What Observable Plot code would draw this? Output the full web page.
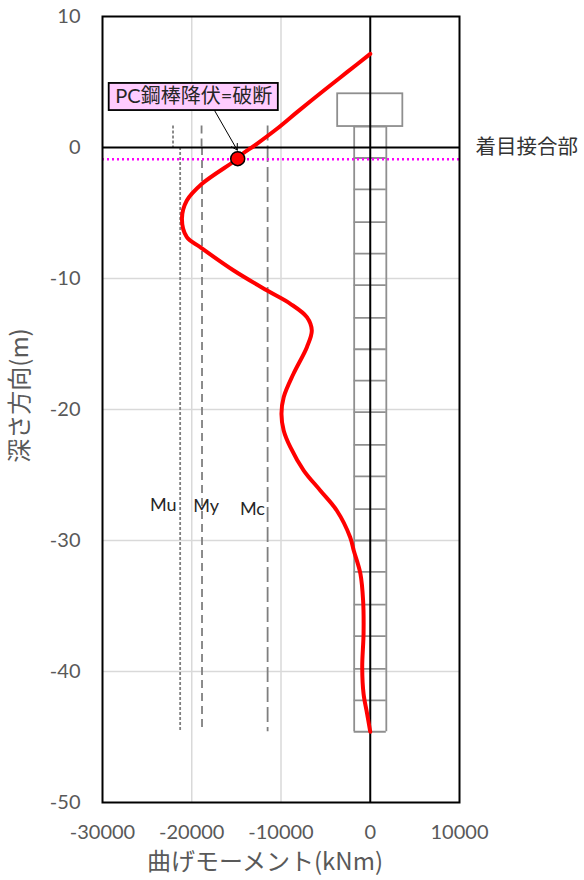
<!DOCTYPE html>
<html>
<head>
<meta charset="utf-8">
<script src="https://cdn.jsdelivr.net/npm/d3@7"></script>
<script src="https://cdn.jsdelivr.net/npm/@observablehq/plot@0.6"></script>
<style>
  html, body { margin: 0; padding: 0; background: #fff; }
  #chart { width: 584px; height: 880px; }
</style>
</head>
<body>
<div id="chart"></div>
<script>
// ---- axes ----
const momentTicks = [-30000, -20000, -10000, 0, 10000];
const depthTicks = [10, 0, -10, -20, -30, -40, -50];
const momentGrid = [-20000, -10000];
const depthGrid = [-10, -20, -30, -40];

// ---- bending moment distribution (depth m, moment kNm) ----
const curveDepth  = [7.15, 5.75, 4.35, 2.7, 1.43, 0.28, -0.61, -0.85, -2.77, -4.05, -5.44, -6.85, -7.61, -9.39, -10.92, -11.93, -12.95, -13.97, -15.24, -17.27, -19.06, -20.33, -21.6, -22.88, -24.66, -26.18, -27.71, -29.75, -30.76, -32.54, -34.58, -37.1, -39.67, -41.7, -43.23, -44.6];
const curveMoment = [0, -2600, -5200, -8200, -10450, -12700, -14550, -14850, -18850, -20550, -21100, -20550, -19050, -15300, -11550, -8950, -7100, -6550, -7100, -8600, -9700, -9950, -9700, -8950, -7450, -5600, -3750, -2250, -1850, -1100, -800, -750, -900, -750, -350, 0];

// ---- limit moments ----
const limitNames = ["Mu", "My", "Mc"];
const limitUpper = [-22100, -18900, -11500];   // pile-head zone (above 0 m)
const limitLower = [-21300, -18850, -11500];   // below 0 m
const limitDash = ["3,2", "8,5", "15,5"];
const limitWidth = [1.8, 1.8, 1.8];
const limitTop = 1.65;
const limitBottom = -44.6;
const limitLabelMoment = [-23200, -18400, -13200];
const limitLabelDepth = [-27.3, -27.4, -27.6];

// ---- pile outline ----
const pileHalfWidth = 1800;
const capHalfWidth = 3650;
const capTop = 4.1;
const pileTop = 1.6;
const pileBottom = -44.6;
const pileDivisions = [1.6, -0.8, -3.2, -5.7, -8.1, -10.5, -13.0, -15.4, -17.8, -20.2, -22.7, -25.1, -27.6, -30.0, -32.4, -34.9, -37.3, -39.8, -42.2, -44.6];

// ---- focus joint & failure point ----
const jointDepth = [-0.9];
const failureMoment = [-14850];
const failureDepth = [-0.85];
const calloutText = ["PC鋼棒降伏=破断"];
const calloutBoxX = [-29250, -10300];
const calloutBoxY = [2.82, 4.89];
const calloutArrowFrom = [-17550, 2.95];
const calloutArrowTo = [-14900, -0.2];

const curve = curveDepth.map((d, i) => ({depth: d, moment: curveMoment[i]}));
const fontStack = "Lato, 'Noto Sans CJK JP', 'Noto Sans', sans-serif";
const gray = "#595959";
const pileGray = "#8f8f8f";

const limitMarks = [];
limitNames.forEach((name, i) => {
  const segs = [
    {x: limitUpper[i], y1: limitTop, y2: 0},
    {x: limitLower[i], y1: 0, y2: limitBottom}
  ];
  limitMarks.push(Plot.ruleX(segs, {x: "x", y1: "y1", y2: "y2", stroke: "#7f7f7f", strokeWidth: limitWidth[i], strokeDasharray: limitDash[i]}));
});

const chart = Plot.plot({
  width: 584,
  height: 880,
  marginLeft: 102,
  marginRight: 125,
  marginTop: 16,
  marginBottom: 78,
  style: {fontFamily: fontStack, background: "#fff", color: gray},
  x: {domain: [-30000, 10000]},
  y: {domain: [-50, 10]},
  marks: [
    Plot.ruleX(momentGrid, {stroke: "#d9d9d9", strokeWidth: 1.5}),
    Plot.ruleY(depthGrid, {stroke: "#d9d9d9", strokeWidth: 1.5}),
    // pile
    Plot.rect([0], {x1: () => -capHalfWidth, x2: () => capHalfWidth, y1: () => pileTop, y2: () => capTop, fill: "none", stroke: pileGray, strokeWidth: 1.8}),
    Plot.ruleX([-pileHalfWidth, pileHalfWidth], {x: d => d, y1: () => pileBottom, y2: () => pileTop, stroke: pileGray, strokeWidth: 1.8}),
    Plot.ruleY(pileDivisions, {y: d => d, x1: () => -pileHalfWidth, x2: () => pileHalfWidth, stroke: pileGray, strokeWidth: 1.8}),
    ...limitMarks,
    Plot.text(limitNames, {x: (d, i) => limitLabelMoment[i], y: (d, i) => limitLabelDepth[i], text: d => d, fontSize: 18, fill: "#262626"}),
    // joint line
    Plot.ruleY(jointDepth, {y: d => d, stroke: "#ff00ff", strokeWidth: 2.5, strokeDasharray: "2,3"}),
    // zero axes
    Plot.ruleX([0], {stroke: "black", strokeWidth: 2}),
    Plot.ruleY([0], {stroke: "black", strokeWidth: 2}),
    Plot.frame({stroke: "black", strokeWidth: 2}),
    // moment curve
    Plot.line(curve, {x: "moment", y: "depth", stroke: "#ff0000", strokeWidth: 4, curve: "catmull-rom"}),
    // callout
    Plot.arrow([0], {x1: () => calloutArrowFrom[0], y1: () => calloutArrowFrom[1], x2: () => calloutArrowTo[0], y2: () => calloutArrowTo[1], stroke: "black", strokeWidth: 1, headLength: 10}),
    Plot.dot(failureMoment, {x: d => d, y: (d, i) => failureDepth[i], r: 7, fill: "#ff0000", stroke: "black", strokeWidth: 1.5}),
    Plot.rect(calloutText, {x1: () => calloutBoxX[0], x2: () => calloutBoxX[1], y1: () => calloutBoxY[0], y2: () => calloutBoxY[1], fill: "#ffccff", stroke: "black", strokeWidth: 1.8}),
    Plot.text(calloutText, {x: () => (calloutBoxX[0] + calloutBoxX[1]) / 2, y: () => (calloutBoxY[0] + calloutBoxY[1]) / 2, text: d => d, fontSize: 20, fill: "#262626", fontFamily: fontStack}),
    // joint label
    Plot.text(["着目接合部"], {x: () => 10000, y: () => 0, text: d => d, dx: 16, textAnchor: "start", fontSize: 20.5, fill: "#333", fontFamily: "'Noto Sans CJK JP', sans-serif"}),
    // axes
    Plot.axisX(momentTicks, {tickSize: 0, tickPadding: 22, fontSize: 20, tickFormat: d => String(d), label: null}),
    Plot.axisY(depthTicks, {tickSize: 0, tickPadding: 22, fontSize: 20, tickFormat: d => String(d), label: null}),
    Plot.text(["曲げモーメント(kNm)"], {frameAnchor: "bottom", dy: 60, dx: -16, lineAnchor: "middle", textAnchor: "middle", text: d => d, fontSize: 24, fill: gray, fontFamily: "'Noto Sans CJK JP', sans-serif"}),
    Plot.text(["深さ方向(m)"], {frameAnchor: "left", dx: -82, dy: -14, rotate: -90, lineAnchor: "middle", textAnchor: "middle", text: d => d, fontSize: 24, fill: gray, fontFamily: "'Noto Sans CJK JP', sans-serif"})
  ]
});
document.getElementById("chart").appendChild(chart);
</script>
</body>
</html>
